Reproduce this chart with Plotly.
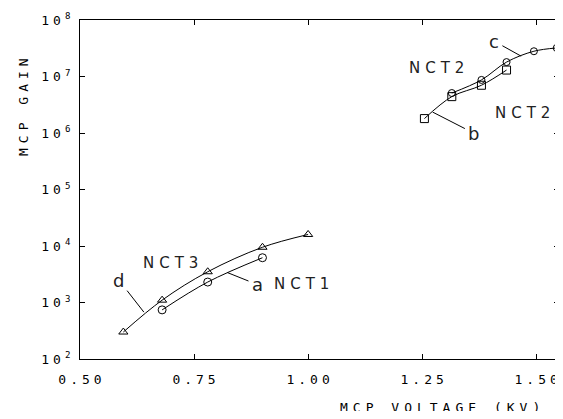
import plotly.graph_objects as go

# Data
a_x = [0.68, 0.78, 0.90]
a_y = [740, 2300, 6200]
d_x = [0.595, 0.68, 0.78, 0.90, 1.00]
d_y = [300, 1100, 3500, 9500, 16000]
b_x = [1.255, 1.315, 1.38, 1.435]
b_y = [1.8e6, 4.4e6, 7.0e6, 1.3e7]
c_x = [1.315, 1.38, 1.435, 1.495, 1.545]
c_y = [5.1e6, 8.7e6, 1.8e7, 2.8e7, 3.2e7]

x_ticks = [0.50, 0.75, 1.00, 1.25, 1.50]
x_ticktext = ["0.50", "0.75", "1.00", "1.25", "1.50"]
y_ticks = [1e2, 1e3, 1e4, 1e5, 1e6, 1e7, 1e8]
y_exps = [2, 3, 4, 5, 6, 7, 8]

MONO = "DejaVu Sans Mono"
SANS = "DejaVu Sans"

def sp(t, ls=3):
    return f'<span style="letter-spacing:{ls}px">{t}</span>'

fig = go.Figure()
common = dict(mode="lines+markers", line=dict(color="black", width=1, shape="spline"),
              showlegend=False, cliponaxis=False)
fig.add_trace(go.Scatter(x=d_x, y=d_y, marker=dict(symbol="triangle-up-open", size=8, color="black", line=dict(width=1)), **common))
fig.add_trace(go.Scatter(x=a_x, y=a_y, marker=dict(symbol="circle-open", size=8, color="black", line=dict(width=1)), **common))
fig.add_trace(go.Scatter(x=b_x, y=b_y, marker=dict(symbol="square-open", size=8, color="black", line=dict(width=1)), **common))
fig.add_trace(go.Scatter(x=c_x, y=c_y, marker=dict(symbol="circle-open", size=7, color="black", line=dict(width=1)), **common))

ann = []
def txt(x, ly, t, size=15, font=SANS):
    ann.append(dict(x=x, y=ly, yref="y", xref="x", text=t, showarrow=False,
                    font=dict(family=font, size=size, color="#222")))
def lead(x, ly, t, ax, ay):
    ann.append(dict(x=x, y=ly, text=t, showarrow=True, arrowhead=0, arrowwidth=1,
                    arrowcolor="black", ax=ax, ay=ay, standoff=0, startstandoff=2,
                    font=dict(family=SANS, size=18, color="#222")))

# annotation y on a log axis is given as log10 value
txt(1.288, 7.15, sp("NCT2", 5))
txt(1.476, 6.35, sp("NCT2", 5))
txt(0.703, 3.70, sp("NCT3", 5))
txt(0.99, 3.33, sp("NCT1", 5))
lead(1.467, 7.36, "c", -27, -15)
lead(1.273, 6.37, "b", 41, 21)
lead(0.64, 2.83, "d", -25, -32)
lead(0.823, 3.53, "a", 30, 12)

ann.append(dict(x=0.5, y=-0.17, xref="paper", yref="paper", text=sp("MCP VOLTAGE (KV)", 5),
                showarrow=False, xshift=123, font=dict(family=MONO, size=13, color="black")))
ann.append(dict(x=0, y=1, xref="paper", yref="paper", text=sp("MCP GAIN", 5), textangle=-90,
                showarrow=False, xshift=-66, yshift=-31, font=dict(family=MONO, size=13, color="black")))
fig.update_layout(annotations=ann)

# the page body adds an 8px margin, so the figure is sized to fit the window without scrollbars
fig.update_layout(
    width=555, height=403,
    margin=dict(l=72, r=4, t=12, b=52),
    paper_bgcolor="white", plot_bgcolor="white",
    xaxis=dict(range=[0.5, 1.55], tickvals=x_ticks, ticktext=[sp(t, 4) for t in x_ticktext],
               ticks="inside", ticklen=5, tickcolor="black", showline=True, linecolor="black",
               linewidth=1, mirror="ticks", showgrid=False, zeroline=False, ticklabelshift=2,
               ticklabelstandoff=8, ticklabeloverflow="allow", automargin=False,
               tickfont=dict(family=MONO, size=13, color="black")),
    yaxis=dict(type="log", range=[2, 8], tickvals=y_ticks,
               ticktext=[sp("10", 4) + f"<sup>{e}</sup>" for e in y_exps],
               ticks="inside", ticklen=5, tickcolor="black", showline=True, linecolor="black",
               linewidth=1, mirror="ticks", showgrid=False, zeroline=False, ticklabelstandoff=6,
               automargin=False, tickfont=dict(family=MONO, size=13, color="black")),
)

fig.write_html("out.html")
